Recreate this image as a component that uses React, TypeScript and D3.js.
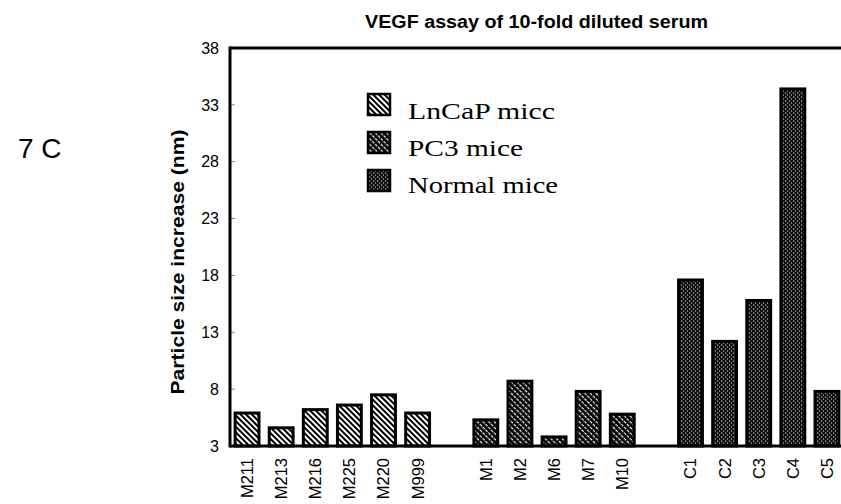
import React from "react";
import * as d3 from "d3";

const lncapNames = ["M211", "M213", "M216", "M225", "M220", "M999"];
const lncapValues = [5.9, 4.6, 6.2, 6.6, 7.5, 5.9];
const pc3Names = ["M1", "M2", "M6", "M7", "M10"];
const pc3Values = [5.3, 8.7, 3.8, 7.8, 5.8];
const normalNames = ["C1", "C2", "C3", "C4", "C5"];
const normalValues = [17.6, 12.2, 15.8, 34.4, 7.8];
const yTicks = [3, 8, 13, 18, 23, 28, 33, 38];
const legendLabels = ["LnCaP micc", "PC3 mice", "Normal mice"];
const legendWidths = [147, 115, 150];
const groupKeys = ["lncap", "pc3", "normal"];

const W = 841;
const H = 504;
const left = 230;
const right = 844;
const top = 48;
const bottom = 446;

export default function App() {
  const slots = [...lncapNames, "gap1", ...pc3Names, "gap2", ...normalNames];
  const x = d3.scaleBand<string>().domain(slots).range([left, right]).paddingInner(0.3).paddingOuter(0.15);
  const y = d3.scaleLinear().domain([3, 38]).range([bottom, top]);

  const bars = [
    ...lncapNames.map((n, i) => ({ name: n, value: lncapValues[i], group: "lncap" })),
    ...pc3Names.map((n, i) => ({ name: n, value: pc3Values[i], group: "pc3" })),
    ...normalNames.map((n, i) => ({ name: n, value: normalValues[i], group: "normal" })),
  ];

  const sans = "'Liberation Sans', Arial, sans-serif";
  const serif = "'Liberation Serif', 'Times New Roman', serif";

  return (
    <svg width={W} height={H} style={{ position: "absolute", left: 0, top: 0, background: "#fff" }}>
      <defs>
        <pattern id="p-lncap" patternUnits="userSpaceOnUse" width={4} height={4} patternTransform="rotate(-45)">
          <rect width={4} height={4} fill="#fff" />
          <rect width={2} height={4} fill="#000" />
        </pattern>
        <pattern id="p-pc3" patternUnits="userSpaceOnUse" width={4} height={4} patternTransform="rotate(-45)">
          <rect width={4} height={4} fill="#fff" />
          <rect width={2.8} height={4} fill="#000" />
          <rect x={2.8} y={2} width={1.2} height={1.2} fill="#000" />
        </pattern>
        <pattern id="p-normal" patternUnits="userSpaceOnUse" width={4} height={4}>
          <rect width={4} height={4} fill="#111" />
          <rect x={1} y={0.5} width={1.2} height={1.2} fill="#bbb" />
          <rect x={3} y={2.5} width={1.2} height={1.2} fill="#bbb" />
        </pattern>
      </defs>

      <text x={18} y={158} fontFamily={sans} fontSize={28}>7 C</text>

      <text
        x={365}
        y={28}
        textLength={343}
        lengthAdjust="spacingAndGlyphs"
        fontFamily={sans}
        fontWeight="bold"
        fontSize={17.5}
      >
        VEGF assay of 10-fold diluted serum
      </text>

      <text
        transform={`translate(184, 262) rotate(-90)`}
        textAnchor="middle"
        textLength={265}
        lengthAdjust="spacingAndGlyphs"
        fontFamily={sans}
        fontWeight="bold"
        fontSize={19}
      >
        Particle size increase (nm)
      </text>

      {yTicks.map((t) => (
        <g key={t}>
          <line x1={left} x2={left + 5} y1={y(t)} y2={y(t)} stroke="#888" strokeWidth={1} />
          <text x={219} y={y(t)} dy="0.36em" textAnchor="end" fontFamily={sans} fontSize={16}>
            {t}
          </text>
        </g>
      ))}

      {bars.map((b) => (
        <rect
          key={b.name}
          x={x(b.name)!}
          y={y(b.value)}
          width={x.bandwidth()}
          height={y(3) - y(b.value)}
          fill={`url(#p-${b.group})`}
          stroke="#000"
          strokeWidth={3}
        />
      ))}

      {bars.map((b) => (
        <text
          key={"l" + b.name}
          transform={`translate(${x(b.name)! + x.bandwidth() / 2}, 458) rotate(-90)`}
          dy="0.36em"
          textAnchor="end"
          fontFamily={sans}
          fontSize={16.5}
        >
          {b.name}
        </text>
      ))}

      <line x1={left} x2={W} y1={top} y2={top} stroke="#000" strokeWidth={3} />
      <line x1={left} x2={W} y1={bottom} y2={bottom} stroke="#000" strokeWidth={3} />
      <line x1={left} x2={left} y1={top - 1.5} y2={bottom + 1.5} stroke="#000" strokeWidth={3} />

      {groupKeys.map((g, i) => (
        <g key={g}>
          <rect x={368} y={94 + i * 38} width={22} height={21} fill={`url(#p-${g})`} stroke="#000" strokeWidth={2.5} />
          <text
            x={408}
            y={119 + i * 37}
            textLength={legendWidths[i]}
            lengthAdjust="spacingAndGlyphs"
            fontFamily={serif}
            fontSize={24}
          >
            {legendLabels[i]}
          </text>
        </g>
      ))}
    </svg>
  );
}
